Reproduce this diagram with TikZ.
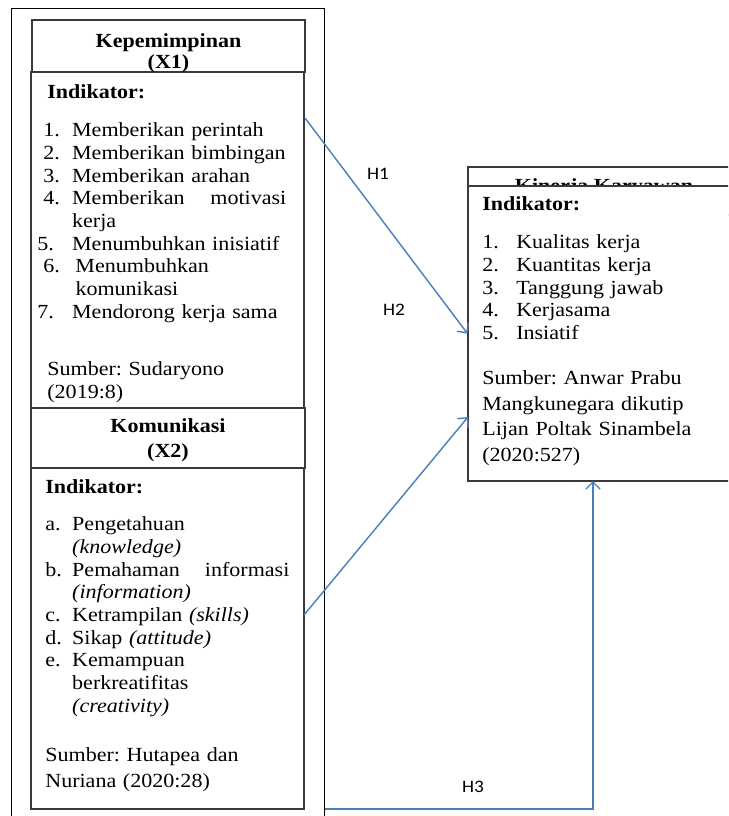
\documentclass[tikz,border=0pt]{standalone}
\usepackage{fontspec}
\setmainfont{Liberation Serif}[FakeStretch=1.1]
\newfontfamily\hfont{Carlito}[FakeStretch=1.1]
\usetikzlibrary{fit,arrows.meta}

\definecolor{hblue}{HTML}{4A7EBB}
\definecolor{boxgray}{HTML}{3A3A3A}

\tikzset{
  box/.style={draw=boxgray, line width=0.6pt, inner sep=0pt},
  txt/.style={anchor=base west, inner sep=0pt, align=left,
    font=\fontsize{11.4}{12.9}\selectfont\frenchspacing},
  ttl/.style={anchor=base, inner sep=0pt, align=center,
    font=\fontsize{11.4}{11.9}\selectfont\bfseries},
  hline/.style={draw=hblue, line width=0.8pt, -{Straight Barb[length=4pt,width=8pt]}},
  hlab/.style={font=\hfont\fontsize{10}{11}\selectfont, inner sep=0pt}
}

% number label of a list line
\newcommand{\itm}[2][16.4pt]{\makebox[#1][l]{#2}}

\begin{document}
\begin{tikzpicture}[x=0.02cm, y=-0.02cm]
  \clip (0,0) rectangle (728,816);
  \useasboundingbox (0,0) rectangle (728,816);

  % boxes
  \node[draw=black, line width=0.5pt, inner sep=0pt, fit={(11.5,8) (324.5,830)}] (frame) {};
  \node[box, fit={(32,20) (305,72)}] (x1head) {};
  \node[box, fit={(31,72) (304,408)}] (x1body) {};
  \node[box, fit={(31,408) (305,468)}] (x2head) {};
  \node[box, fit={(31,468) (304,809)}] (x2body) {};
  \node[box, fit={(468,167) (745,215)}] (khead) {};
  \node[ttl] (ktitle) at (604,192) {Kinerja Karyawan};
  \node[box, fill=white, fit={(468,186) (745,481)}] (kbody) {};

  % titles (base = last line)
  \node[ttl] (x1title) at (168.5,68) {Kepemimpinan\\(X1)};
  \node[ttl] (x2title) at (168,457) {Komunikasi\\[2.3pt](X2)};

  % X1
  \node[txt, text width=138.3pt] (x1text) at (43,98) {%
    \hspace*{2.3pt}{\bfseries Indikator:}\\[9.2pt]
    \itm{1.}Memberikan perintah\\
    \itm{2.}Memberikan bimbingan\\
    \itm{3.}Memberikan arahan\\
    \itm{4.}Memberikan\hfill motivasi\\
    \itm{}kerja\\
    \hspace*{-3.4pt}\itm[19.8pt]{5.}Menumbuhkan inisiatif\\
    \itm{6.}\,Menumbuhkan\\
    \itm{}\,komunikasi\\
    \hspace*{-3.4pt}\itm[19.8pt]{7.}Mendorong kerja sama\\[20pt]
    \hspace*{2.3pt}Sumber: Sudaryono\\
    \hspace*{2.3pt}(2019:8)};

  % X2
  \node[txt, text width=138.9pt] (x2text) at (45,493) {%
    {\bfseries Indikator:}\\[8.6pt]
    \itm[15.3pt]{a.}Pengetahuan\\
    \itm[15.3pt]{}\textit{(knowledge)}\\
    \itm[15.3pt]{b.}Pemahaman\hfill informasi\\
    \itm[15.3pt]{}\textit{(information)}\\
    \itm[15.3pt]{c.}Ketrampilan \textit{(skills)}\\
    \itm[15.3pt]{d.}Sikap \textit{(attitude)}\\
    \itm[15.3pt]{e.}Kemampuan\\
    \itm[15.3pt]{}berkreatifitas\\
    \itm[15.3pt]{}\textit{(creativity)}\\[15.4pt]
    Sumber: Hutapea dan\\[1.8pt]
    Nuriana (2020:28)};

  % Kinerja
  \node[txt, text width=140pt] (ktext) at (482,210) {%
    {\bfseries Indikator:}\\[9.2pt]
    \itm[19.3pt]{1.}Kualitas kerja\\
    \itm[19.3pt]{2.}Kuantitas kerja\\
    \itm[19.3pt]{3.}Tanggung jawab\\
    \itm[19.3pt]{4.}Kerjasama\\
    \itm[19.3pt]{5.}Insiatif\\[12.6pt]
    Sumber: Anwar Prabu\\[1.8pt]
    Mangkunegara dikutip\\[1.8pt]
    Lijan Poltak Sinambela\\[1.8pt]
    (2020:527)};

  % hypotheses
  \coordinate (h1s) at (305,118);
  \coordinate (h2s) at (304,615);
  \coordinate (h2e) at (468,417);
  \coordinate (h3e) at (593,481);
  \draw[hline] (h1s) -- (kbody.west);
  \draw[hline] (h2s) -- (h2e);
  \draw[hline] (frame.east |- 0,809) -| (h3e);
  \node[hlab] (h1) at (378,174) {H1};
  \node[hlab] (h2) at (394,310) {H2};
  \node[hlab] (h3) at (473,787) {H3};
\end{tikzpicture}
\end{document}
